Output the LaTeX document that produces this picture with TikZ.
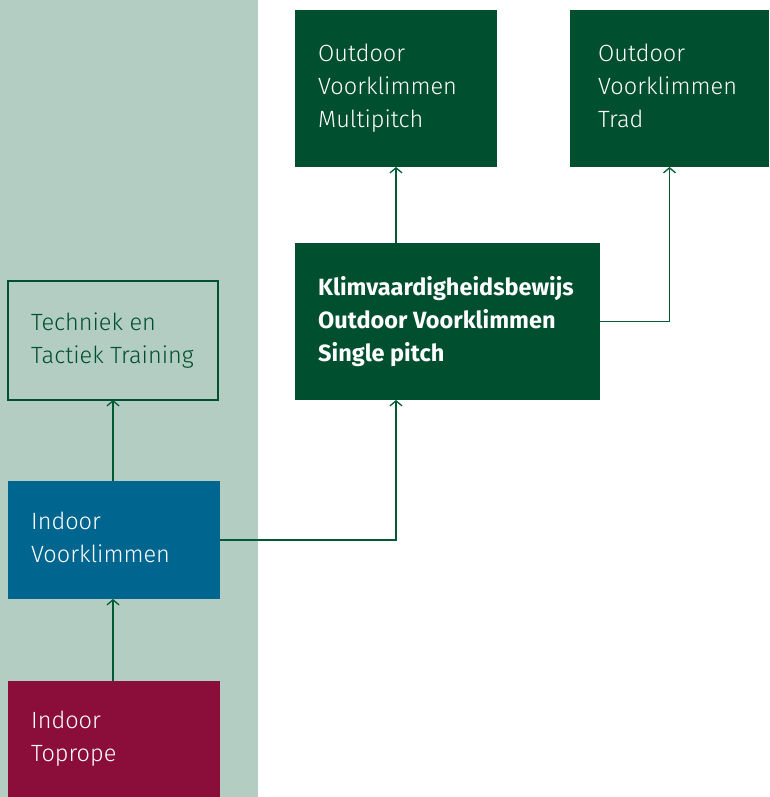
\documentclass[tikz,border=0pt]{standalone}
\usepackage{fontspec}
\setmainfont{Fira Sans}[UprightFont=* Light, BoldFont=* Bold]
\usetikzlibrary{arrows.meta}
\definecolor{panel}{RGB}{179,205,195}
\definecolor{dgreen}{RGB}{0,79,47}
\definecolor{lgreen}{RGB}{0,90,50}
\definecolor{ivblue}{RGB}{0,102,143}
\definecolor{crimson}{RGB}{139,13,58}
\tikzset{
  box/.style={anchor=north west, inner sep=0pt, outer sep=0pt},
  label/.style={anchor=west, align=left, inner sep=0pt, font=\fontsize{23.5}{33}\selectfont},
  arr/.style={draw=lgreen, line width=1.5pt, -{Straight Barb[length=5pt,width=12pt,line width=1.3pt]}},
}
\begin{document}
\begin{tikzpicture}[x=1pt,y=-1pt]
\useasboundingbox (0,0) rectangle (769,797);
\fill[panel] (0,0) rectangle (258,797);
% boxes
\node[box, fill=dgreen, minimum width=202pt, minimum height=157pt] (mp) at (295,10) {};
\node[box, fill=dgreen, minimum width=199pt, minimum height=157pt] (trad) at (570,10) {};
\node[box, fill=dgreen, minimum width=305pt, minimum height=157pt] (klim) at (295,243) {};
\node[box, draw=dgreen, line width=1.5pt, fill=panel, minimum width=210pt, minimum height=119pt] (tech) at (8,281) {};
\node[box, fill=ivblue, minimum width=212pt, minimum height=118pt] (iv) at (8,481) {};
\node[box, fill=crimson, minimum width=212pt, minimum height=116pt] (tr) at (8,681) {};
% texts
\node[label, text=white] (mpt) at ([xshift=23pt]mp.west) {Outdoor\\Voorklimmen\\Multipitch};
\node[label, text=white] (tradt) at ([xshift=28pt]trad.west) {Outdoor\\Voorklimmen\\Trad\vphantom{p}};
\node[label, text=white, font=\fontsize{23.5}{33}\selectfont\bfseries] (klimt) at ([xshift=23pt]klim.west) {Klimvaardigheidsbewijs\\Outdoor Voorklimmen\\Single pitch};
\node[label, text=dgreen] (techt) at ([xshift=23pt]tech.west) {Techniek en\\Tactiek Training};
\node[label, text=white] (ivt) at ([xshift=23pt]iv.west) {Indoor\\Voorklimmen\vphantom{p}};
\node[label, text=white] (trt) at ([xshift=23pt]tr.west) {Indoor\\Toprope};
% connectors
\draw[arr] (mp.south |- klim.north) -- (mp.south);
\draw[arr] (klim.east) -| (trad.south);
\draw[arr] (iv.east) -| (mp.south |- klim.south);
\draw[arr] (tech.south |- iv.north) -- (tech.south);
\draw[arr] (tr.north -| tech.south) -- (tech.south |- iv.south);
\end{tikzpicture}
\end{document}
